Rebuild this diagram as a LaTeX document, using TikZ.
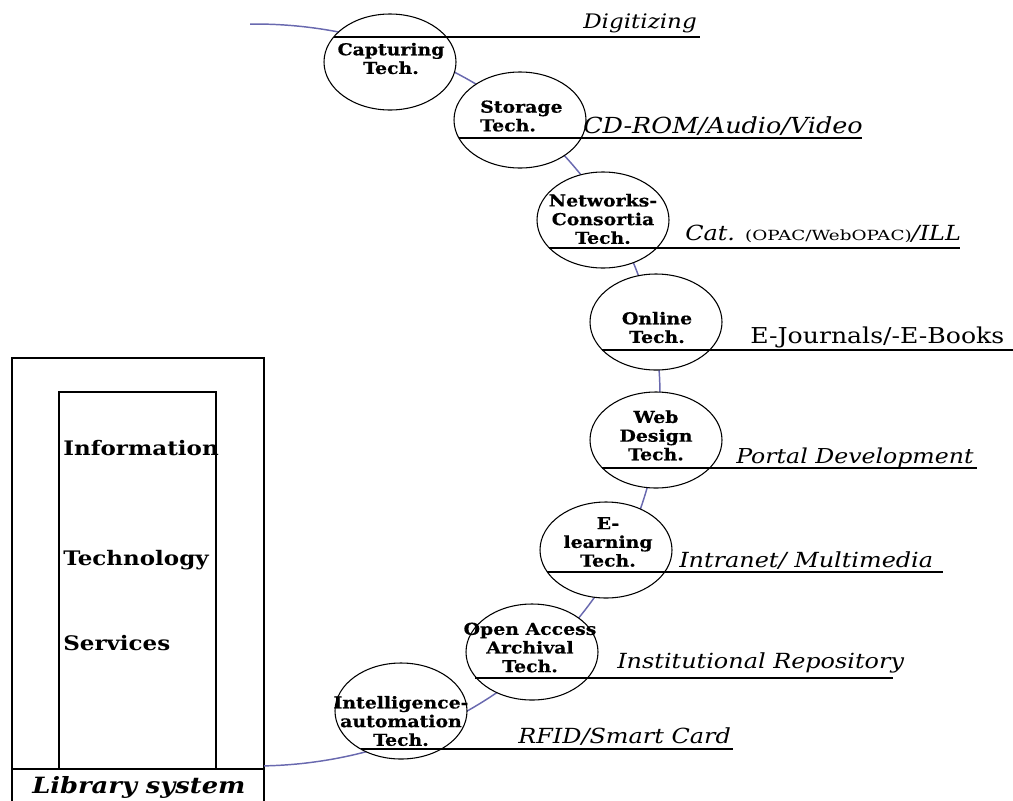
\documentclass[tikz,border=0pt]{standalone}
\usepackage{fontspec}
\usepackage{graphicx}
\setmainfont{DejaVu Serif}[FakeStretch=1.15]
\newfontfamily\circfont{DejaVu Serif Bold}[FakeStretch=1.15, FakeBold=0.5]
\usetikzlibrary{shapes.geometric}
\definecolor{arcblue}{RGB}{105,105,175}
\begin{document}
\begin{tikzpicture}[x=0.75pt,y=-0.75pt,
  tech/.style={draw=black, line width=0.8pt, fill=white, ellipse, minimum width=99pt, minimum height=72pt, inner sep=0pt},
  techtext/.style={align=center, inner sep=0pt, font=\circfont\fontsize{12.3}{14}\selectfont},
  uline/.style={draw=black, line width=0.9pt},
  lbl/.style={anchor=base west, inner sep=0pt, font=\fontsize{15.6}{18}\selectfont\itshape},
  boxtxt/.style={anchor=base west, inner sep=0pt, font=\fontsize{15}{18}\selectfont\bfseries},
  frame/.style={draw=black, line width=0.9pt}]
\useasboundingbox (0,0) rectangle (1013,800);
\clip (0,0) rectangle (1013,800);

% left box
\draw[frame] (12,358) rectangle (264,820);
\draw[frame] (59,392) rectangle (216,769);
\draw[frame] (12,769) -- (264,769);
\node[boxtxt] (info) at (63,455) {Information};
\node[boxtxt] (techn) at (63,565) {Technology};
\node[boxtxt] (serv) at (63,650) {Services};
\node[anchor=base west, inner sep=0pt, font=\fontsize{16.8}{18}\selectfont\bfseries\itshape] (lib) at (32,793) {Library system};

% backbone arc
\coordinate (arcstart) at (250,24);
\coordinate (arcend) at (264,766);
\draw[arcblue, line width=1.1pt] plot[domain=-90.7:88.7, samples=150, smooth] ({255+405*cos(\x)},{395+371*sin(\x)});

% circles
\node[tech] (c1) at (390,62) {};
\node[tech] (c2) at (520,120) {};
\node[tech] (c3) at (603,220) {};
\node[tech] (c4) at (656,322) {};
\node[tech] (c5) at (656,440) {};
\node[tech] (c6) at (606,550) {};
\node[tech] (c7) at (532,652) {};
\node[tech] (c8) at (401,711) {};

\node[techtext] (t1) at (391,58.5) {Capturing\\Tech.};
\node[techtext, align=left, anchor=west] (t2) at (480,116) {Storage\\Tech.};
\node[techtext] (t3) at (603,219) {Networks-\\Consortia\\Tech.};
\node[techtext] (t4) at (657,327.5) {Online\\Tech.};
\node[techtext] (t5) at (656,435.5) {Web\\Design\\Tech.};
\node[techtext] (t6) at (608,542) {E-\\learning\\Tech.};
\node[techtext] (t7) at (530,647.5) {Open Access\\Archival\\Tech.};
\node[techtext] (t8) at (401,721) {Intelligence-\\automation\\Tech.};

% underlines
\draw[uline] (334,37) -- (700,37);
\draw[uline] (459,138) -- (862,138);
\draw[uline] (549,248) -- (960,248);
\draw[uline] (602,350) -- (1013,350);
\draw[uline] (602,468) -- (977,468);
\draw[uline] (547,572) -- (943,572);
\draw[uline] (475,678) -- (893,678);
\draw[uline] (361,749) -- (733,749);

% labels
\node[lbl, font=\fontsize{15}{18}\selectfont\itshape] (l1) at (583,28) {Digitizing};
\node[lbl, font=\fontsize{16.6}{18}\selectfont\itshape] (l2) at (583,133) {CD-ROM/Audio/Video};
\node[lbl] (l3) at (685,240) {Cat. {\upshape\scalebox{1.14}[1]{\fontsize{10.5}{11}\selectfont(OPAC/WebOPAC)}}/ILL};
\node[lbl, font=\fontsize{16.4}{18}\selectfont\upshape] (l4) at (750,343) {E-Journals/-E-Books};
\node[lbl, font=\fontsize{15.4}{18}\selectfont\itshape] (l5) at (736,463) {Portal Development};
\node[lbl] (l6) at (679,567) {Intranet/ Multimedia};
\node[lbl] (l7) at (617,668) {Institutional Repository};
\node[lbl] (l8) at (518,743) {RFID/Smart Card};
\end{tikzpicture}
\end{document}
